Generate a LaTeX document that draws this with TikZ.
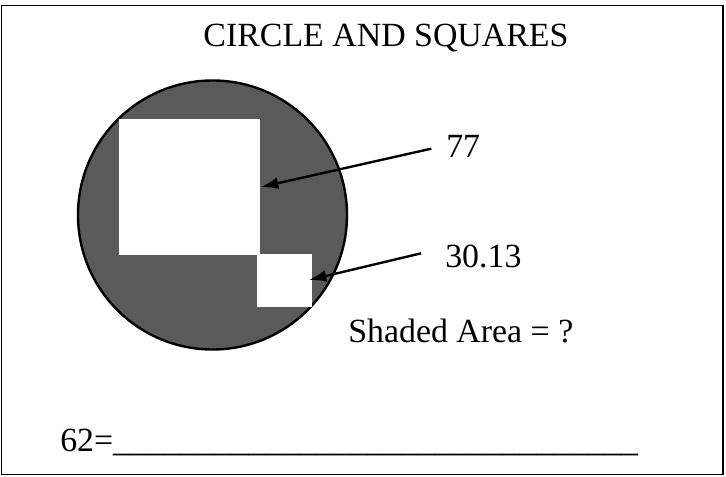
\documentclass[tikz,border=0pt]{standalone}
\usepackage{fontspec}
\setmainfont{Liberation Serif}
\usetikzlibrary{arrows.meta,positioning}

\tikzset{
  lbl/.style={inner sep=0pt, font=\fontsize{25.4}{30}\selectfont},
  pointer/.style={line width=1.8, -{Latex[length=13pt,width=9pt]}},
}

\begin{document}
\begin{tikzpicture}[x=0.75pt,y=0.75pt,yscale=-1,xscale=1]
\useasboundingbox (0,0) rectangle (726,477);

%Shape: Rectangle [frame]
\draw [line width=1] (1.5,5.5) rectangle (723,474.5) ;

%Shape: Circle [shaded]
\draw [fill={rgb, 255:red, 90; green, 90; blue, 90 }, fill opacity=1][line width=1.8] (212.5,215) circle [radius=134.5] ;
%Shape: Square [big]
\fill [white] (119,119) rectangle (260,255) ;
%Shape: Square [small]
\fill [white] (257,254) rectangle (311.5,307) ;

% Text Node
\node [lbl] (title) at (386,38) {CIRCLE AND SQUARES};
% Text Node
\node [lbl, anchor=west] (lbl77) at (446,146) {77};
% Text Node
\node [lbl, anchor=west] (lbl3013) at (445,256) {30.13};
% Text Node
\node [lbl, anchor=west] (shaded) at (348,331) {Shaded Area = ?};
% Text Node
\node [lbl, anchor=base west] (answer) at (60,452) {62=\_\_\_\_\_\_\_\_\_\_\_\_\_\_\_\_\_\_\_\_\_\_\_\_\_\_\_\_\_\_\_};

\coordinate (tip77) at (261,187) ;
\coordinate (tip3013) at (309,280) ;
%Straight Lines [arrows]
\draw [pointer] ([xshift=-11,yshift=2]lbl77.west) -- (tip77) ;
\draw [pointer] ([xshift=-18,yshift=-2]lbl3013.west) -- (tip3013) ;

\end{tikzpicture}
\end{document}
